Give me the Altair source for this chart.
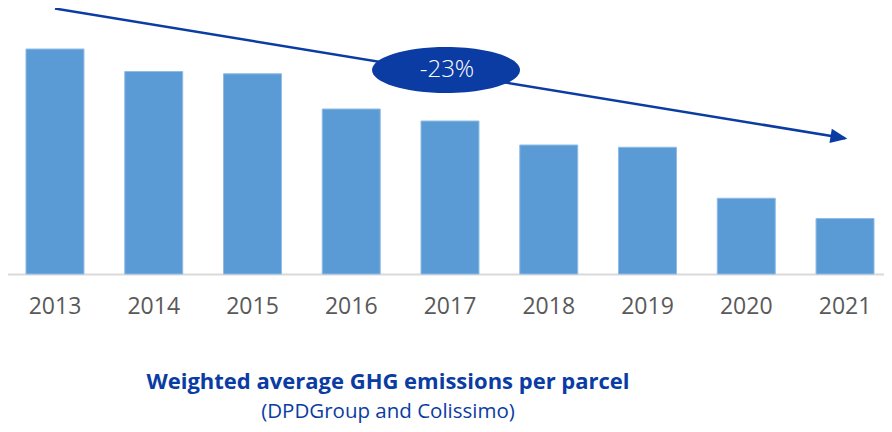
import altair as alt
import pandas as pd

# ---- data ----
years = ["2013", "2014", "2015", "2016", "2017", "2018", "2019", "2020", "2021"]
values = [100.0, 97.0, 96.7, 92.0, 90.4, 87.2, 86.9, 80.1, 77.4]  # index, 2013 = 100

Y_MIN = 70.0
Y_MAX = 105.47

# trend arrow annotation (start / end), in data units
arrow_years = ["2013", "2021"]
arrow_values = [105.4, 88.1]

badge_year = ["2017"]
badge_value = [97.2]
badge_text = ["-23%"]

title_text = "Weighted average GHG emissions per parcel"
subtitle_text = "(DPDGroup and Colissimo)"

BLUE = "#5B9BD5"
DARK = "#0A3CA3"
FONT = "Open Sans"

bars_df = pd.DataFrame({"year": years, "value": values})
arrow_df = pd.DataFrame({"year": arrow_years, "value": arrow_values})
head_df = pd.DataFrame({"year": arrow_years[-1:], "value": arrow_values[-1:]})
badge_df = pd.DataFrame({"year": badge_year, "value": badge_value, "label": badge_text})
title_df = pd.DataFrame({"t": [title_text]})
sub_df = pd.DataFrame({"t": [subtitle_text]})

PLOT_W = 876
PLOT_H = 416
BASE_Y = 266

xscale = alt.Scale(domain=years, range=[-2.4, 886.4], paddingInner=0.413,
                   paddingOuter=0.2065, round=False)
yscale = alt.Scale(domain=[Y_MIN, Y_MAX], range=[BASE_Y, 0], zero=False, nice=False)

x_axis = alt.Axis(title=None, orient="bottom", offset=-(PLOT_H - BASE_Y),
                  domainColor="#D9D9D9", domainWidth=2, ticks=False,
                  labelFont=FONT, labelFontSize=23, labelColor="#595959",
                  labelPadding=21, labelAngle=0, grid=False)
x_enc = alt.X("year:N", scale=xscale, sort=years, axis=x_axis)
y_enc = alt.Y("value:Q", scale=yscale, axis=None)

bars = alt.Chart(bars_df).mark_bar(color=BLUE, stroke="#8FBBE6", strokeWidth=1).encode(
    x=x_enc, y=y_enc, y2=alt.datum(Y_MIN)
)

arrow = alt.Chart(arrow_df).mark_line(color=DARK, strokeWidth=2.5).encode(
    x=x_enc, y=y_enc
)

head_path = "M 1 0 L -1 -0.85 L -1 0.85 Z"
head = alt.Chart(head_df).mark_point(
    shape=head_path, filled=True, color=DARK, opacity=1, size=289, angle=9.4,
    xOffset=-6, yOffset=-1
).encode(x=x_enc, y=y_enc)

ellipse_path = ("M -1 0 C -1 -0.1717 -0.5523 -0.311 0 -0.311 "
                "C 0.5523 -0.311 1 -0.1717 1 0 "
                "C 1 0.1717 0.5523 0.311 0 0.311 "
                "C -0.5523 0.311 -1 0.1717 -1 0 Z")
badge = alt.Chart(badge_df).mark_point(
    shape=ellipse_path, filled=True, color=DARK, opacity=1, size=21904, xOffset=-4
).encode(x=x_enc, y=y_enc)

badge_lbl = alt.Chart(badge_df).mark_text(
    font=FONT, fontSize=24, fontWeight=300, color="white", xOffset=-3,
    baseline="middle", align="center"
).encode(x=x_enc, y=y_enc, text="label:N")

title = alt.Chart(title_df).mark_text(
    font=FONT, fontSize=22, fontWeight="bold", color=DARK, align="center",
    baseline="alphabetic"
).encode(x=alt.value(380), y=alt.value(381), text="t:N")

subtitle = alt.Chart(sub_df).mark_text(
    font=FONT, fontSize=20.5, color=DARK, align="center", baseline="alphabetic"
).encode(x=alt.value(380), y=alt.value(410), text="t:N")

chart = alt.layer(bars, arrow, head, badge, badge_lbl, title, subtitle).properties(
    width=PLOT_W, height=PLOT_H, autosize=alt.AutoSizeParams(type="none"), padding=0
).configure_view(stroke=None)

chart.save("out.html", embed_options={"renderer": "svg", "actions": False})
